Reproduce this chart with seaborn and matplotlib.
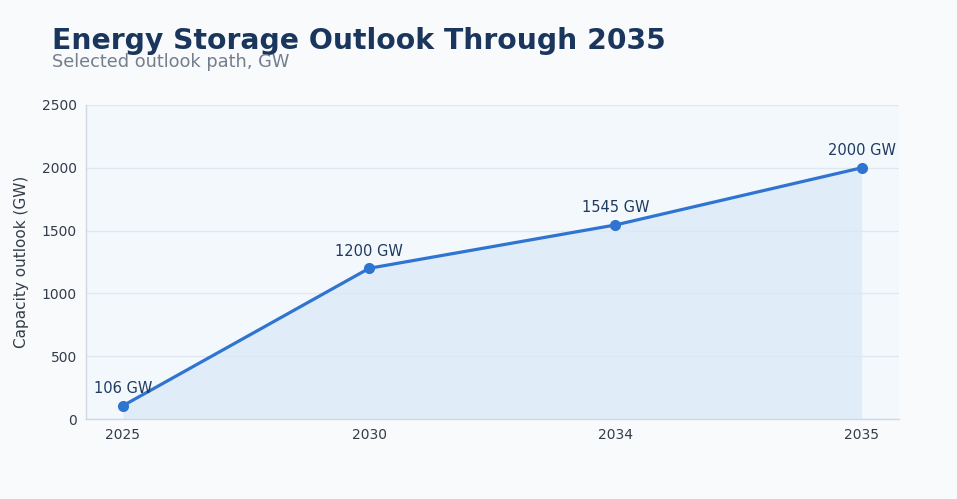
import matplotlib
matplotlib.use("Agg")
import matplotlib.pyplot as plt
import seaborn as sns
import numpy as np
import pandas as pd

years = ["2025", "2030", "2034", "2035"]
capacity_gw = [106, 1200, 1545, 2000]
point_labels = ["106 GW", "1200 GW", "1545 GW", "2000 GW"]
y_ticks = [0, 500, 1000, 1500, 2000, 2500]

sns.set_theme(style="white")
plt.rcParams['font.family'] = ['DejaVu Sans']

df = pd.DataFrame({"year": years, "capacity": capacity_gw})

fig = plt.figure(figsize=(9.57, 4.99), dpi=100, facecolor="#f8fafc")
ax = fig.add_axes([0.0899, 0.1603, 0.8491, 0.6293])
ax.set_facecolor("#f3f8fd")

line_color = "#2f74d0"
sns.lineplot(data=df, x="year", y="capacity", ax=ax, color=line_color,
             linewidth=2.3, marker="o", markersize=8, markeredgewidth=0, zorder=3)
xs = np.arange(len(years))
ax.fill_between(xs, capacity_gw, 0, color="#d9e9f8", alpha=0.7, zorder=1, linewidth=0)

for x, y, lab in zip(xs, capacity_gw, point_labels):
    ax.annotate(lab, (x, y), xytext=(0, 7), textcoords="offset points",
                ha="center", va="bottom", fontsize=10.5, color="#1f3a5f")

ax.set_xlim(-0.15, 3.15)
ax.set_ylim(0, 2500)
ax.set_yticks(y_ticks)
ax.yaxis.grid(True, color="#dfe7f1", linewidth=0.9)
ax.set_axisbelow(True)
for s in ["top", "right"]:
    ax.spines[s].set_visible(False)
for s in ["left", "bottom"]:
    ax.spines[s].set_color("#cfd8e3")
    ax.spines[s].set_linewidth(1.0)
ax.tick_params(axis="both", labelsize=10, colors="#333d4a", length=3.5, width=0.8, pad=3)
ax.tick_params(axis="both", color="#8a94a0")
ax.set_xlabel("")
ax.set_ylabel("Capacity outlook (GW)", fontsize=11, color="#333d4a", labelpad=9)

fig.text(0.0543, 0.890, "Energy Storage Outlook Through 2035", fontsize=20.3,
         fontweight="bold", color="#1b365d", ha="left", va="bottom")
fig.text(0.0543, 0.858, "Selected outlook path, GW", fontsize=12.8,
         color="#737f8c", ha="left", va="bottom")

fig.savefig("out.png", dpi=100, facecolor=fig.get_facecolor())
